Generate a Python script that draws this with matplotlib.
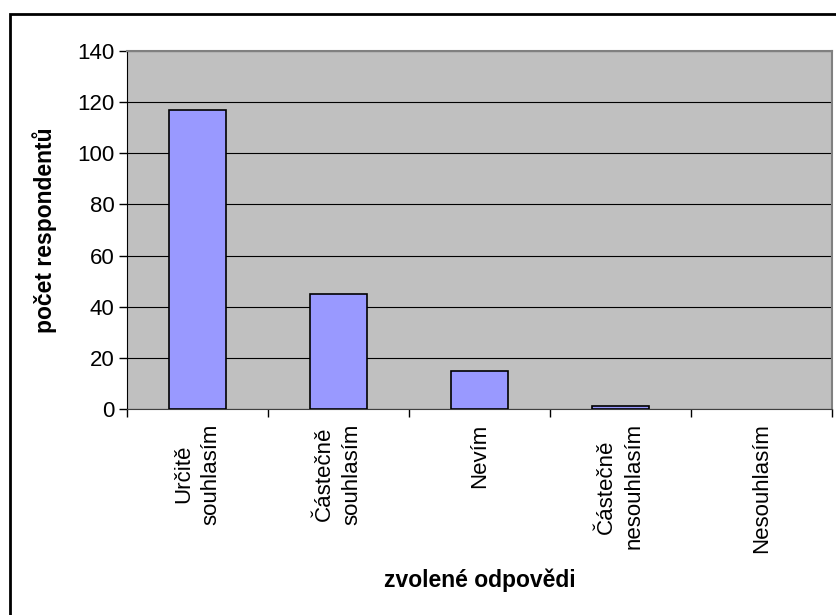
import matplotlib.pyplot as plt
from matplotlib.patches import Rectangle

plt.rcParams['font.family'] = ['Liberation Sans', 'DejaVu Sans']

# Data
kategorie = ["Určitě\nsouhlasím", "Částečně\nsouhlasím", "Nevím",
             "Částečně\nnesouhlasím", "Nesouhlasím"]
pocty = [117, 45, 15, 1, 0]
y_ticks = [0, 20, 40, 60, 80, 100, 120, 140]

fig = plt.figure(figsize=(8.36, 6.15), dpi=100)

# Outer chart border (only top and left visible in the original)
fig.patches.append(Rectangle((10 / 836, -0.1), 2.0, 1 - 14 / 615 + 0.1,
                             transform=fig.transFigure, fill=False,
                             edgecolor="black", linewidth=2))

ax = fig.add_axes([127 / 836, 1 - 409 / 615, (832 - 127) / 836, (409 - 51) / 615])
ax.set_facecolor("#C0C0C0")

x = range(len(kategorie))
okraje = ["black" if v > 0 else "none" for v in pocty]
ax.bar(x, pocty, width=0.4, color="#9999FF", edgecolor=okraje, linewidth=1.2, zorder=3)

ax.set_xlim(-0.5, len(kategorie) - 0.5)
ax.set_ylim(0, 140)
ax.set_yticks(y_ticks)
ax.tick_params(axis="y", labelsize=16, length=6, width=1, direction="out", pad=3)
ax.grid(axis="y", color="black", linewidth=0.8, zorder=1)

# Ticks on the category boundaries, labels in the centres
ax.set_xticks([i - 0.5 for i in range(len(kategorie) + 1)])
ax.set_xticklabels([])
ax.tick_params(axis="x", length=6, width=1, direction="out")
for i, lab in enumerate(kategorie):
    ax.text(i, -0.04, lab, transform=ax.get_xaxis_transform(), rotation=90,
            ha="center", va="top", multialignment="center", fontsize=16,
            linespacing=1.4)

for side in ["top", "right"]:
    ax.spines[side].set_color("#808080")
    ax.spines[side].set_linewidth(1.5)
ax.spines["left"].set_color("black")
ax.spines["bottom"].set_color("#404040")

fig.text(45 / 836, 1 - 230 / 615, "počet respondentů", rotation=90,
         ha="center", va="center", fontsize=16.5, fontweight="bold")
fig.text(480 / 836, 1 - 580 / 615, "zvolené odpovědi",
         ha="center", va="center", fontsize=16.5, fontweight="bold")

plt.savefig("out.png", dpi=100)
plt.close()
